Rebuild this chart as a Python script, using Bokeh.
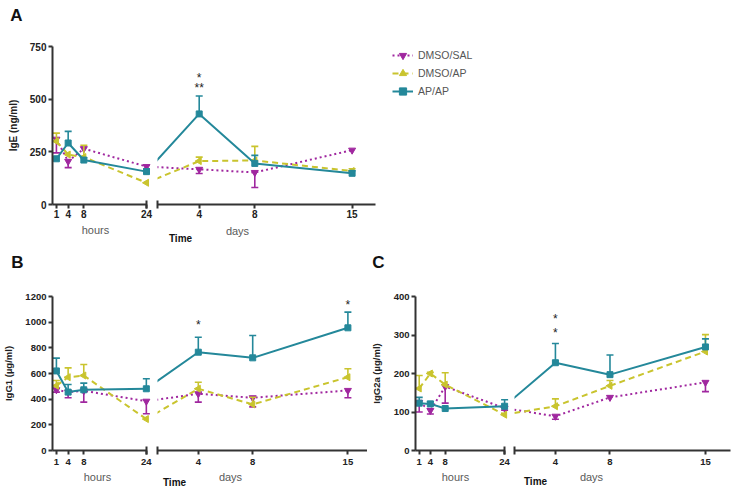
import numpy as np
from bokeh.plotting import figure
from bokeh.models import Range1d, FixedTicker, Legend, LegendItem
from bokeh.layouts import row, column
from bokeh.embed import file_html
from bokeh.resources import INLINE
from bokeh.core.properties import value

FONT = "Liberation Sans"
TEAL = "#24889a"
MAG = "#a0279f"
YEL = "#c9c42e"
AXC = "#333333"

# ---------------- data ----------------
hours = [1, 4, 8, 24]
days = [4, 8, 15]
names = ["DMSO/SAL", "DMSO/AP", "AP/AP"]

# Panel A  IgE (ng/ml)
a_sal_h = [310, 205, 265, 180]; a_sal_h_tip = [245, 175, 265, 168]
a_sal_d = [167, 152, 258];      a_sal_d_tip = [147, 81, 258]
a_ap_h = [300, 237, 225, 103];  a_ap_h_tip = [339, 237, 281, 103]
a_ap_d = [206, 209, 159];       a_ap_d_tip = [225, 276, 170]
a_apap_h = [217, 292, 211, 156]; a_apap_h_tip = [217, 347, 222, 167]
a_apap_d = [430, 195, 148];      a_apap_d_tip = [515, 233, 160]
a_star_day = [4, 4]; a_star_y = [600, 552]; a_star_txt = ["*", "**"]
a_yticks = [0, 250, 500, 750]

# Panel B  IgG1 (ug/ml)
b_sal_h = [473, 455, 465, 384]; b_sal_h_tip = [455, 411, 377, 286]
b_sal_d = [442, 411, 468];      b_sal_d_tip = [377, 340, 411]
b_ap_h = [505, 571, 584, 245];  b_ap_h_tip = [545, 644, 670, 245]
b_ap_d = [481, 359, 571];       b_ap_d_tip = [532, 415, 637]
b_apap_h = [620, 455, 473, 481]; b_apap_h_tip = [720, 514, 525, 559]
b_apap_d = [766, 722, 956];      b_apap_d_tip = [883, 896, 1078]
b_star_day = [4, 15]; b_star_y = [975, 1130]; b_star_txt = ["*", "*"]
b_yticks = [0, 200, 400, 600, 800, 1000, 1200]

# Panel C  IgG2a (ug/ml)
c_sal_h = [125, 104, 166, 110]; c_sal_h_tip = [100, 95, 123, 105]
c_sal_d = [89, 138, 177];       c_sal_d_tip = [81, 138, 153]
c_ap_h = [161, 200, 171, 93];   c_ap_h_tip = [195, 203, 202, 93]
c_ap_d = [115, 168, 257];       c_ap_d_tip = [134, 182, 301]
c_apap_h = [123, 121, 109, 115]; c_apap_h_tip = [138, 127, 109, 132]
c_apap_d = [228, 197, 269];      c_apap_d_tip = [278, 248, 290]
c_star_day = [4, 4]; c_star_y = [342, 304]; c_star_txt = ["*", "*"]
c_yticks = [0, 100, 200, 300, 400]

STY = {
    "DMSO/SAL": dict(color=MAG, dash="2 3", marker="inverted_triangle", angle=0.0, size=7),
    "DMSO/AP": dict(color=YEL, dash="6 4", marker="triangle", angle=np.pi / 2, size=7),
    "AP/AP": dict(color=TEAL, dash="solid", marker="square", angle=0.0, size=6),
}


def style_axis(ax, size="10px", standoff=2):
    ax.axis_line_width = 2
    ax.axis_line_color = AXC
    ax.major_tick_line_width = 2
    ax.major_tick_line_color = AXC
    ax.minor_tick_line_width = 2
    ax.minor_tick_line_color = AXC
    ax.major_tick_in = 0
    ax.major_tick_out = 4
    ax.major_label_text_font = FONT
    ax.major_label_text_font_style = "bold"
    ax.major_label_text_font_size = size
    ax.major_label_text_color = "#222222"
    ax.major_label_standoff = standoff


def mkfig(w, h, bl, br, bt, bb, xr, yr, yaxis, xaxis=True):
    p = figure(width=w, height=h, x_range=xr, y_range=yr, output_backend="svg",
               toolbar_location=None, title=None,
               min_border_left=bl, min_border_right=br, min_border_top=bt, min_border_bottom=bb,
               y_axis_location=("left" if yaxis else None),
               x_axis_location=("below" if xaxis else None))
    p.xgrid.visible = False
    p.ygrid.visible = False
    p.outline_line_color = None
    p.background_fill_color = "white"
    p.border_fill_color = "white"
    return p


def draw(p, xs, vals, tips, st, lx, lv):
    lr = p.line(lx, lv, line_color=st["color"], line_width=2, line_dash=st["dash"])
    ex = [x for x, v, t in zip(xs, vals, tips) if t != v]
    ev = [v for x, v, t in zip(xs, vals, tips) if t != v]
    et = [t for x, v, t in zip(xs, vals, tips) if t != v]
    if ex:
        p.segment(ex, ev, ex, et, line_color=st["color"], line_width=1.6)
        p.scatter(ex, et, marker="dash", size=7, line_color=st["color"], line_width=1.6)
    mr = p.scatter(xs, vals, marker=st["marker"], size=st["size"], fill_color=st["color"],
                   line_color=st["color"], angle=st["angle"])
    return lr, mr


def panel(g, data, ylabel, yticks, ymax, stars, tick_size, xstand, ylab_size, ylab_standoff):
    yr = Range1d(0, ymax)
    hw = g["h_bl"] + g["h_fw"] + g["h_br"]
    hx_axis = g["x0"] + g["h_bl"]
    bb = g["H"] - g["bt"] - g["fh"]
    ph = mkfig(hw, g["H"], g["h_bl"], g["h_br"], g["bt"], bb,
               Range1d(0, g["h_fw"] / g["pph"]), yr, True)
    dx0 = g["x0"] + hw
    dw = g["d_bl"] + g["d_fw"] + g["d_br"]
    d_left = dx0 + g["d_bl"]
    pd_ = mkfig(dw, g["H"], g["d_bl"], g["d_br"], g["bt"], bb,
                Range1d(1, 1 + g["d_fw"] / g["ppd"]), yr, False)
    # position of 24 h expressed on the days scale (axis break)
    h24_px = hx_axis + 24 * g["pph"]
    x24_days = 1 - (d_left - h24_px) / g["ppd"]

    xa = ph.xaxis[0]
    style_axis(xa, tick_size, xstand)
    xa.ticker = FixedTicker(ticks=hours, minor_ticks=[24])
    xa.bounds = (0, 24)
    xa.minor_tick_in = 4
    xa.minor_tick_out = 4
    ya = ph.yaxis[0]
    style_axis(ya, tick_size, 2)
    ya.ticker = FixedTicker(ticks=yticks, minor_ticks=[])
    ya.bounds = (0, ymax)
    ya.minor_tick_in = 0
    ya.minor_tick_out = 0
    ya.axis_label = ylabel
    ya.axis_label_text_font = FONT
    ya.axis_label_text_font_style = "bold"
    ya.axis_label_text_font_size = ylab_size
    ya.axis_label_text_color = "#222222"
    ya.axis_label_standoff = ylab_standoff
    xd = pd_.xaxis[0]
    style_axis(xd, tick_size, xstand)
    xd.ticker = FixedTicker(ticks=days, minor_ticks=[1])
    xd.bounds = (1, 1 + g["d_fw"] / g["ppd"])
    xd.minor_tick_in = 4
    xd.minor_tick_out = 4

    for name in names:
        vh, th, vd, td = data[name]
        st = STY[name]
        draw(ph, hours, vh, th, st, hours, vh)
        draw(pd_, days, vd, td, st, [x24_days] + days, [vh[-1]] + vd)

    sd, sy, stx = stars
    pd_.text(x=sd, y=sy, text=stx, text_align="center", text_baseline="middle",
             text_font=value(FONT), text_font_size="12px", text_color="#222222")
    return ph, pd_


def strip(x0, y0, w, h, texts):
    """A plain text band; texts given as (page x, page y, text, size, bold, color)."""
    p = mkfig(w, h, 0, 0, 0, 0, Range1d(0, w), Range1d(0, h), False, False)
    for (X, Y, t, size, bold, color) in texts:
        p.text(x=[X - x0], y=[y0 + h - Y], text=[t], text_align="center", text_baseline="middle",
               text_font=value(FONT), text_font_size=size,
               text_font_style=("bold" if bold else "normal"), text_color=color)
    return p


GREY = "#5a5a5a"
DARK = "#111111"

# geometry in page pixels
gA = dict(x0=0, y0=26, H=196, bt=18, fh=160, h_bl=52, h_fw=100, h_br=2, pph=3.917,
          d_bl=3, d_fw=218, d_br=2, ppd=13.9)
gB = dict(x0=0, y0=272, H=199, bt=24, fh=154, h_bl=52, h_fw=99, h_br=2, pph=3.91,
          d_bl=4, d_fw=210, d_br=0, ppd=13.6)
gC = dict(x0=367, y0=272, H=199, bt=21, fh=157, h_bl=43, h_fw=99, h_br=3, pph=3.91,
          d_bl=2, d_fw=216, d_br=4, ppd=13.64)

dataA = {"DMSO/SAL": (a_sal_h, a_sal_h_tip, a_sal_d, a_sal_d_tip),
         "DMSO/AP": (a_ap_h, a_ap_h_tip, a_ap_d, a_ap_d_tip),
         "AP/AP": (a_apap_h, a_apap_h_tip, a_apap_d, a_apap_d_tip)}
dataB = {"DMSO/SAL": (b_sal_h, b_sal_h_tip, b_sal_d, b_sal_d_tip),
         "DMSO/AP": (b_ap_h, b_ap_h_tip, b_ap_d, b_ap_d_tip),
         "AP/AP": (b_apap_h, b_apap_h_tip, b_apap_d, b_apap_d_tip)}
dataC = {"DMSO/SAL": (c_sal_h, c_sal_h_tip, c_sal_d, c_sal_d_tip),
         "DMSO/AP": (c_ap_h, c_ap_h_tip, c_ap_d, c_ap_d_tip),
         "AP/AP": (c_apap_h, c_apap_h_tip, c_apap_d, c_apap_d_tip)}

aH, aD = panel(gA, dataA, "IgE (ng/ml)", a_yticks, 750,
               (a_star_day, a_star_y, a_star_txt), "10px", 1, "10px", 8)
bH, bD = panel(gB, dataB, "IgG1 (µg/ml)", b_yticks, 1200,
               (b_star_day, b_star_y, b_star_txt), "9.5px", 4, "9.5px", 8)
cH, cD = panel(gC, dataC, "IgG2a (µg/ml)", c_yticks, 400,
               (c_star_day, c_star_y, c_star_txt), "9.5px", 4, "9.5px", 9)

# legend panel (its own small figure to the right of panel A)
lg = mkfig(113, 196, 15, 0, 20, 0, Range1d(0, 1), Range1d(0, 1), False, False)
items = []
for n in names:
    st = STY[n]
    # legend-only renderers, their single point lies outside the visible range
    lr = lg.line([-5, -4], [-5, -5], line_color=st["color"], line_width=2, line_dash=st["dash"])
    mr = lg.scatter([-5], [-5], marker=st["marker"], size=st["size"], fill_color=st["color"],
                    line_color=st["color"], angle=st["angle"])
    items.append(LegendItem(label=n, renderers=[lr, mr]))
legend = Legend(items=items, location="top_left", orientation="vertical", glyph_width=21,
                glyph_height=18, label_height=18, label_standoff=5, spacing=0, padding=0,
                margin=0, border_line_color=None, background_fill_alpha=0,
                label_text_font=FONT, label_text_font_size="10.5px", label_text_color="#555555")
lg.add_layout(legend)

topA = strip(0, 0, 490, 26, [(16, 15, "A", "17px", True, DARK)])
botA = strip(0, 222, 490, 28, [(95, 229, "hours", "11px", False, GREY),
                               (237, 230, "days", "11px", False, GREY),
                               (180, 238, "Time", "10px", True, DARK)])
topBC = strip(0, 250, 734, 22, [(17, 262, "B", "17px", True, DARK),
                                (378, 262, "C", "17px", True, DARK)])
botBC = strip(0, 471, 734, 19, [(97, 476, "hours", "11px", False, GREY),
                                (230, 476, "days", "11px", False, GREY),
                                (174, 482, "Time", "10px", True, DARK),
                                (455, 476, "hours", "11px", False, GREY),
                                (591, 476, "days", "11px", False, GREY),
                                (535, 481, "Time", "10px", True, DARK)])

layout = column(topA, row(aH, aD, lg), botA, topBC, row(bH, bD, cH, cD), botBC)
open("out.html", "w").write(file_html(layout, INLINE))
